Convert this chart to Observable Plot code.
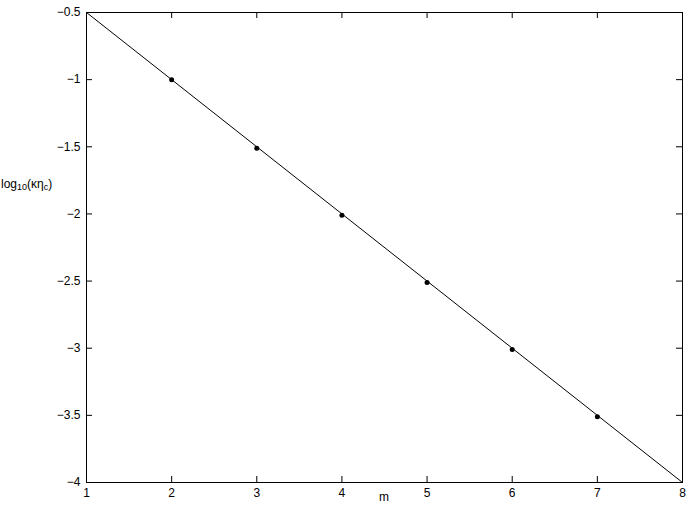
<!DOCTYPE html>
<html>
<head>
<meta charset="utf-8">
<script src="https://cdn.jsdelivr.net/npm/d3@7"></script>
<script src="https://cdn.jsdelivr.net/npm/@observablehq/plot@0.6"></script>
<style>
  html, body { margin: 0; padding: 0; background: #fff; }
  #chart { width: 692px; height: 518px; }
</style>
</head>
<body>
<div id="chart"></div>
<script>
// Data
const pointM = [2, 3, 4, 5, 6, 7];
const pointLogKappaEta = [-1.0, -1.51, -2.01, -2.51, -3.01, -3.51];
const lineM = [1, 8];
const lineLogKappaEta = [-0.5, -4];
const xTicks = [1, 2, 3, 4, 5, 6, 7, 8];
const yTicks = [-4, -3.5, -3, -2.5, -2, -1.5, -1, -0.5];
const xDomain = [1, 8];
const yDomain = [-4, -0.5];

const points = pointM.map((m, i) => ({m, v: pointLogKappaEta[i]}));
const fitLine = lineM.map((m, i) => ({m, v: lineLogKappaEta[i]}));
const fmt = d => String(d).replace("-", "\u2212");

const W = 692, H = 518, mL = 86, mR = 10, mT = 12, mB = 36;
const innerW = W - mL - mR, innerH = H - mT - mB;
const tickLen = 6;
const tickStyle = {stroke: "#000", strokeWidth: 1};

const chart = Plot.plot({
  width: W,
  height: H,
  marginLeft: mL,
  marginRight: mR,
  marginTop: mT,
  marginBottom: mB,
  style: {fontSize: "12px", fontFamily: "'Liberation Sans', Arial, sans-serif", color: "#000", background: "#fff", overflow: "visible"},
  x: {domain: xDomain},
  y: {domain: yDomain},
  marks: [
    Plot.frame({stroke: "#000", strokeWidth: 1}),
    Plot.axisX({anchor: "bottom", ticks: xTicks, tickSize: 0, tickPadding: 6, tickFormat: fmt, label: null}),
    Plot.axisY({anchor: "left", ticks: yTicks, tickSize: 0, tickPadding: 6, tickFormat: fmt, label: null}),
    // inward ticks on all four sides
    Plot.tickX(xTicks, {x: d => d, insetTop: innerH - tickLen, ...tickStyle}),
    Plot.tickX(xTicks, {x: d => d, insetBottom: innerH - tickLen, ...tickStyle}),
    Plot.tickY(yTicks, {y: d => d, insetRight: innerW - tickLen, ...tickStyle}),
    Plot.tickY(yTicks, {y: d => d, insetLeft: innerW - tickLen, ...tickStyle}),
    Plot.line(fitLine, {x: "m", y: "v", stroke: "#000", strokeWidth: 1}),
    Plot.dot(points, {x: "m", y: "v", fill: "#000", r: 2.5})
  ]
});

document.getElementById("chart").appendChild(chart);

const svg = d3.select(chart);
// x-axis label
svg.append("text")
  .attr("x", mL + innerW / 2)
  .attr("y", 501)
  .attr("text-anchor", "middle")
  .attr("font-family", "'Liberation Sans', Arial, sans-serif")
  .attr("font-size", 12)
  .attr("fill", "#000")
  .text("m");
// y-axis label with subscripts
const yl = svg.append("text")
  .attr("x", 1)
  .attr("y", 188)
  .attr("text-anchor", "start")
  .attr("font-family", "'Liberation Sans', Arial, sans-serif")
  .attr("font-size", 12)
  .attr("fill", "#000");
yl.append("tspan").text("log");
yl.append("tspan").attr("font-size", 9).attr("baseline-shift", "-25%").text("10");
yl.append("tspan").text("(\u03BA\u03B7");
yl.append("tspan").attr("font-size", 9).attr("baseline-shift", "-25%").text("c");
yl.append("tspan").text(")");
</script>
</body>
</html>
